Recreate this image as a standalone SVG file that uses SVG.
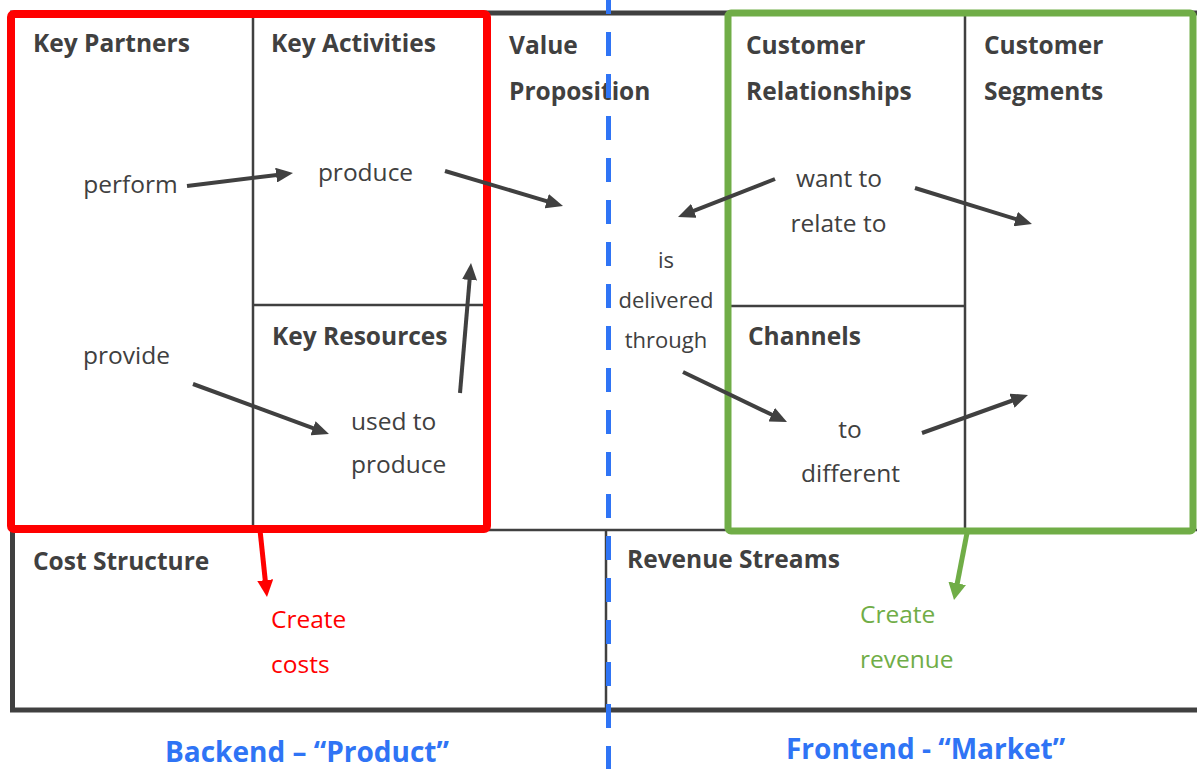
<svg xmlns="http://www.w3.org/2000/svg" width="1197" height="769" viewBox="0 0 1197 769">
<style>
.h{font-family:"Open Sans","Noto Sans",sans-serif;font-weight:bold;font-size:24.5px;fill:#404040}
.t{font-family:"Open Sans","Noto Sans",sans-serif;font-size:24.5px;fill:#404040}
.s{font-family:"Open Sans","Noto Sans",sans-serif;font-size:22px;fill:#404040}
.m{text-anchor:middle}
.thin{stroke:#404040;stroke-width:2.5;fill:none}
.arr{stroke:#404040;stroke-width:4;fill:none;marker-end:url(#ah)}
.blue{font-family:"Open Sans","Noto Sans",sans-serif;font-weight:bold;font-size:28px;fill:#2F74F5}
</style>
<defs>
<marker id="ah" markerUnits="userSpaceOnUse" markerWidth="17" markerHeight="15" refX="5" refY="7.5" orient="auto"><path d="M0,0 L17,7.5 L0,15 z" fill="#404040"/></marker>
<marker id="ahr" markerUnits="userSpaceOnUse" markerWidth="17" markerHeight="16" refX="5" refY="8" orient="auto"><path d="M0,0 L17,8 L0,16 z" fill="#FF0000"/></marker>
<marker id="ahg" markerUnits="userSpaceOnUse" markerWidth="17" markerHeight="18" refX="5" refY="9" orient="auto"><path d="M0,0 L17,9 L0,18 z" fill="#70AD47"/></marker>
</defs>
<rect width="1197" height="769" fill="#fff"/>
<g id="canvas-frame">
<rect x="12.5" y="13" width="1200" height="697" fill="none" stroke="#404040" stroke-width="5"/>
<line class="thin" x1="253" y1="14" x2="253" y2="529"/>
<line class="thin" x1="253" y1="305" x2="487" y2="305"/>
<line class="thin" x1="965" y1="13" x2="965" y2="531"/>
<line class="thin" x1="728" y1="306" x2="965" y2="306"/>
<line class="thin" x1="12" y1="530" x2="1197" y2="530"/>
<line class="thin" x1="606" y1="530" x2="606" y2="710"/>
</g>
<g id="key-partners"><text class="h" x="33" y="52">Key Partners</text></g>
<g id="key-activities"><text class="h" x="271" y="52">Key Activities</text></g>
<g id="key-resources"><text class="h" x="272" y="345">Key Resources</text></g>
<g id="value-proposition"><text class="h" x="509" y="54">Value</text><text class="h" x="509" y="100">Proposition</text></g>
<g id="customer-relationships"><text class="h" x="746" y="54">Customer</text><text class="h" x="746" y="100">Relationships</text></g>
<g id="channels"><text class="h" x="748" y="345">Channels</text></g>
<g id="customer-segments"><text class="h" x="984" y="54">Customer</text><text class="h" x="984" y="100">Segments</text></g>
<g id="cost-structure"><text class="h" x="33" y="570">Cost Structure</text></g>
<g id="revenue-streams"><text class="h" x="627" y="568">Revenue Streams</text></g>
<g id="backend-box"><rect x="11" y="14" width="476" height="515" rx="3" fill="none" stroke="#FF0000" stroke-width="8"/></g>
<g id="frontend-box"><rect x="728" y="13" width="465" height="518" rx="3" fill="none" stroke="#70AD47" stroke-width="7"/></g>
<g id="divider"><line x1="608.5" y1="-10" x2="608.5" y2="769" stroke="#2F74F5" stroke-width="5" stroke-dasharray="24 18"/></g>
<g id="labels">
<text class="t m" x="130.5" y="193">perform</text>
<text class="t m" x="365.5" y="181">produce</text>
<text class="t m" x="126.5" y="364">provide</text>
<text class="t" x="351" y="430">used to</text>
<text class="t" x="351" y="473">produce</text>
<text class="s m" x="666" y="268">is</text>
<text class="s m" x="666" y="308">delivered</text>
<text class="s m" x="666" y="348">through</text>
<text class="t m" x="839" y="187">want to</text>
<text class="t m" x="838.5" y="232">relate to</text>
<text class="t m" x="850" y="438">to</text>
<text class="t m" x="850.5" y="482">different</text>
<text class="t" x="271" y="628" style="fill:#FF0000">Create</text>
<text class="t" x="271" y="673" style="fill:#FF0000">costs</text>
<text class="t" x="860" y="623" style="fill:#70AD47">Create</text>
<text class="t" x="860" y="668" style="fill:#70AD47">revenue</text>
<text class="blue" x="165" y="762">Backend – “Product”</text>
<text class="blue" x="786" y="759">Frontend - “Market”</text>
</g>
<g id="connectors">
<line class="arr" x1="187" y1="186" x2="281.1" y2="174.5"/>
<line class="arr" x1="445" y1="171" x2="551.5" y2="202.6"/>
<line class="arr" x1="775" y1="179" x2="689.2" y2="212.6"/>
<line class="arr" x1="915" y1="188" x2="1020.5" y2="220.5"/>
<line class="arr" x1="193" y1="384" x2="317.7" y2="429.9"/>
<line class="arr" x1="460" y1="393" x2="470" y2="275"/>
<line class="arr" x1="683" y1="372" x2="776.2" y2="416.8"/>
<line class="arr" x1="922" y1="433" x2="1016.7" y2="399"/>
<line x1="260" y1="530" x2="265.75" y2="585.1" stroke="#FF0000" stroke-width="5" marker-end="url(#ahr)"/>
<line x1="967" y1="533" x2="956.3" y2="588.2" stroke="#70AD47" stroke-width="5" marker-end="url(#ahg)"/>
</g>
</svg>
